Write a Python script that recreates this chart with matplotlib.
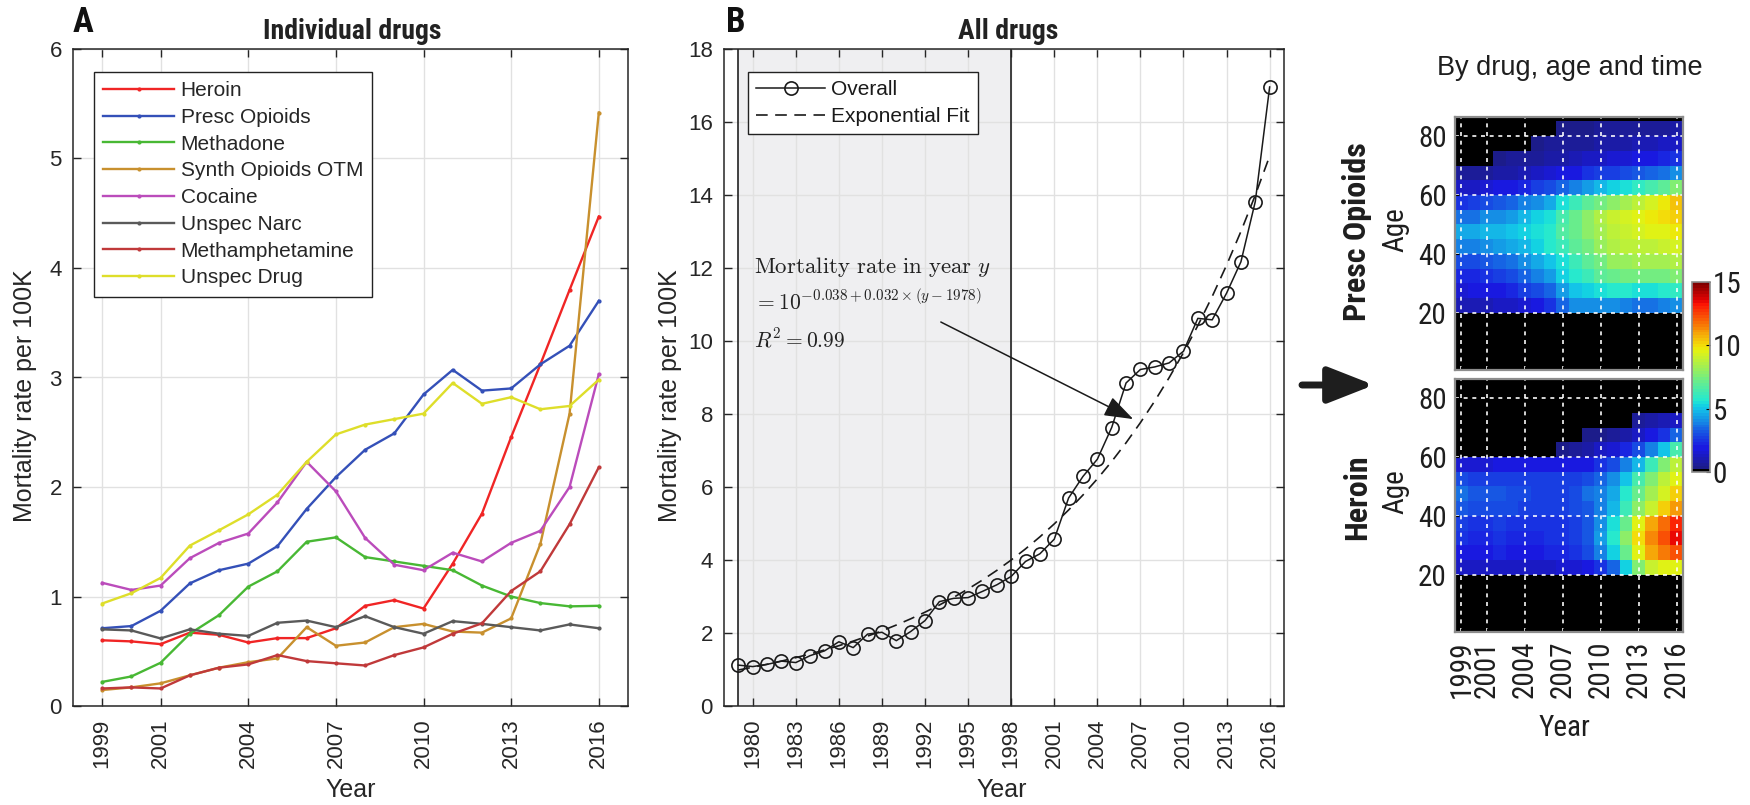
import numpy as np
import matplotlib
matplotlib.use('Agg')
import matplotlib.pyplot as plt
from matplotlib.colors import ListedColormap
from matplotlib import font_manager

_fonts = font_manager.fontManager.ttflist
_installed = {f.name for f in _fonts}


def _has_bold(name):
    return any(f.name == name and f.weight in (600, 700, 'bold', 'semibold')
               for f in _fonts)


# condensed face for titles and heat-map labels, plain sans as fallback
COND = 'Liberation Sans'
for cand in ['Roboto Condensed', 'IBM Plex Sans Condensed', 'Fira Sans Condensed',
             'PT Sans Narrow', 'Archivo Narrow', 'Liberation Sans Narrow']:
    if cand in _installed and _has_bold(cand):
        COND = cand
        break
HAS_NARROW = COND != 'Liberation Sans'

plt.rcParams['font.family'] = ['Liberation Sans', 'DejaVu Sans']
plt.rcParams['mathtext.fontset'] = 'cm'

TXT = '#262626'

# ---------------- data ----------------
years = list(range(1999, 2017))

drug_names = ['Heroin', 'Presc Opioids', 'Methadone', 'Synth Opioids OTM',
              'Cocaine', 'Unspec Narc', 'Methamphetamine', 'Unspec Drug']
heroin = [0.60, 0.59, 0.565, 0.67, 0.65, 0.58, 0.62, 0.62, 0.71, 0.915,
          0.967, 0.89, 1.30, 1.757, 2.456, 3.12, 3.80, 4.47]
presc_opioids = [0.71, 0.73, 0.87, 1.12, 1.24, 1.30, 1.46, 1.80, 2.09, 2.34,
                 2.49, 2.845, 3.07, 2.88, 2.90, 3.12, 3.29, 3.70]
methadone = [0.22, 0.27, 0.395, 0.66, 0.83, 1.09, 1.23, 1.50, 1.54, 1.36,
             1.32, 1.28, 1.24, 1.10, 1.00, 0.94, 0.91, 0.915]
synth_otm = [0.146, 0.17, 0.207, 0.28, 0.35, 0.40, 0.435, 0.72, 0.55, 0.58,
             0.72, 0.75, 0.68, 0.67, 0.80, 1.48, 2.67, 5.42]
cocaine = [1.125, 1.06, 1.10, 1.35, 1.49, 1.575, 1.86, 2.23, 1.96, 1.535,
           1.29, 1.24, 1.40, 1.32, 1.49, 1.60, 2.00, 3.03]
unspec_narc = [0.70, 0.69, 0.617, 0.70, 0.66, 0.64, 0.76, 0.78, 0.72, 0.82,
               0.72, 0.66, 0.775, 0.75, 0.72, 0.69, 0.745, 0.71]
methamphetamine = [0.16, 0.17, 0.16, 0.28, 0.35, 0.38, 0.465, 0.41, 0.39, 0.37,
                   0.465, 0.535, 0.66, 0.755, 1.05, 1.23, 1.66, 2.18]
unspec_drug = [0.936, 1.03, 1.17, 1.465, 1.605, 1.75, 1.93, 2.23, 2.48, 2.57,
               2.62, 2.67, 2.95, 2.76, 2.82, 2.71, 2.74, 2.98]
drug_series = [heroin, presc_opioids, methadone, synth_otm, cocaine,
               unspec_narc, methamphetamine, unspec_drug]
drug_colors = ['#f02525', '#3450b8', '#48b834', '#c8902e', '#bb4cbb',
               '#5a5a5a', '#c0393a', '#dede2a']

overall_years = list(range(1979, 2017))
overall = [1.12, 1.08, 1.14, 1.23, 1.19, 1.38, 1.51, 1.76, 1.60, 1.97,
           2.02, 1.79, 2.04, 2.34, 2.86, 2.95, 2.97, 3.14, 3.32, 3.55,
           3.96, 4.17, 4.57, 5.70, 6.29, 6.76, 7.63, 8.85, 9.22, 9.29,
           9.40, 9.72, 10.62, 10.58, 11.31, 12.17, 13.82, 16.96]
fit_a, fit_b, fit_y0 = -0.038, 0.032, 1978

# mortality per 100K by 5-year age group (rows: 0-4 ... 85-89), columns 1999..2016
presc_by_age = [
    [0] * 18,
    [0] * 18,
    [0] * 18,
    [0] * 18,
    [1.0, 1.0, 1.1, 1.2, 1.3, 1.5, 1.9, 2.5, 3.4, 4.0, 4.2, 4.2, 4.0, 3.8, 3.6, 3.6, 3.8, 4.2],
    [1.6, 1.7, 1.9, 2.1, 2.3, 2.6, 3.0, 3.5, 4.4, 5.0, 5.3, 5.5, 5.8, 5.8, 5.6, 5.6, 5.8, 6.0],
    [2.2, 2.3, 2.5, 2.8, 3.0, 3.3, 3.8, 4.4, 5.2, 5.8, 6.3, 6.8, 7.2, 7.4, 7.4, 7.3, 7.4, 7.5],
    [2.9, 3.0, 3.2, 3.4, 3.7, 4.0, 4.5, 5.0, 5.6, 6.2, 6.8, 7.4, 8.0, 8.2, 8.3, 8.3, 8.4, 8.6],
    [3.8, 3.9, 4.2, 4.4, 4.6, 4.9, 5.3, 5.7, 6.3, 6.8, 7.4, 8.0, 8.5, 8.7, 8.8, 8.8, 9.0, 9.2],
    [4.5, 4.6, 4.8, 4.9, 5.0, 5.2, 5.5, 5.8, 6.6, 7.2, 7.8, 8.4, 8.9, 9.1, 9.3, 9.4, 9.6, 9.8],
    [3.6, 3.7, 4.0, 4.2, 4.4, 4.8, 5.2, 5.6, 6.5, 7.2, 7.9, 8.5, 9.0, 9.3, 9.5, 9.7, 10.0, 10.3],
    [2.5, 2.6, 2.9, 3.1, 3.4, 3.8, 4.2, 4.6, 5.4, 6.1, 6.8, 7.4, 7.9, 8.4, 8.9, 9.3, 9.8, 10.4],
    [1.2, 1.3, 1.5, 1.8, 2.1, 2.3, 2.6, 2.9, 3.4, 3.9, 4.4, 4.8, 5.2, 5.6, 6.0, 6.4, 6.9, 7.5],
    [0.5, 0.6, 0.7, 0.8, 0.9, 1.1, 1.4, 1.6, 1.9, 2.1, 2.4, 2.6, 2.8, 3.0, 3.2, 3.4, 3.7, 4.0],
    [0.1, 0.2, 0.2, 0.3, 0.5, 0.6, 0.7, 0.8, 0.9, 1.0, 1.2, 1.3, 1.5, 1.6, 1.8, 2.0, 2.2, 2.5],
    [0, 0, 0, 0, 0, 0.1, 0.4, 0.5, 0.5, 0.6, 0.7, 0.8, 0.9, 0.9, 1.0, 1.1, 1.2, 1.3],
    [0, 0, 0, 0, 0, 0, 0, 0, 0.3, 0.4, 0.4, 0.5, 0.5, 0.6, 0.6, 0.7, 0.7, 0.8],
    [0] * 18,
]
heroin_by_age = [
    [0] * 18,
    [0] * 18,
    [0] * 18,
    [0] * 18,
    [1.2, 1.2, 1.2, 1.3, 1.3, 1.3, 1.3, 1.4, 1.5, 1.6, 1.9, 2.4, 3.5, 5.3, 7.6, 9.0, 9.4, 9.6],
    [2.1, 2.1, 2.1, 2.2, 2.1, 2.1, 2.1, 2.2, 2.3, 2.5, 3.0, 3.9, 5.2, 7.2, 9.4, 10.8, 11.6, 12.4],
    [2.4, 2.3, 2.3, 2.4, 2.3, 2.3, 2.3, 2.4, 2.5, 2.7, 3.2, 4.3, 5.8, 7.8, 9.9, 11.3, 12.4, 13.4],
    [2.6, 2.5, 2.5, 2.6, 2.5, 2.4, 2.4, 2.5, 2.5, 2.7, 3.1, 4.0, 5.4, 7.2, 9.4, 10.8, 11.8, 13.0],
    [3.1, 3.0, 2.9, 3.0, 2.9, 2.8, 2.7, 2.7, 2.7, 2.9, 3.2, 3.8, 4.8, 6.2, 7.9, 9.1, 10.1, 11.2],
    [3.7, 3.2, 3.1, 3.2, 3.0, 2.9, 2.8, 2.8, 2.8, 3.0, 3.6, 3.9, 4.6, 5.8, 7.2, 8.4, 9.3, 10.2],
    [2.9, 2.8, 2.7, 2.8, 2.7, 2.6, 2.6, 2.6, 2.6, 2.7, 2.9, 3.3, 4.1, 5.1, 6.5, 7.7, 8.7, 9.6],
    [1.6, 1.6, 1.6, 1.7, 1.7, 1.7, 1.7, 1.8, 1.9, 2.0, 2.1, 2.4, 3.0, 3.8, 4.9, 6.2, 7.5, 8.8],
    [0, 0, 0, 0.2, 0.2, 0.2, 0.2, 0.2, 0.3, 0.6, 0.9, 1.2, 1.6, 2.2, 3.0, 3.9, 5.0, 6.4],
    [0, 0, 0, 0, 0, 0, 0, 0, 0, 0.2, 0.3, 0.4, 0.6, 0.9, 1.3, 1.9, 2.5, 3.4],
    [0, 0, 0, 0, 0, 0, 0, 0, 0, 0, 0, 0, 0, 0.2, 0.5, 0.8, 1.0, 1.4],
    [0] * 18,
    [0] * 18,
    [0] * 18,
]
age_group_starts = list(range(0, 95, 5))

# ---------------- figure ----------------
W, H = 1750, 805
fig = plt.figure(figsize=(W / 100, H / 100), dpi=100)


def px_axes(x0, y0, x1, y1):
    return fig.add_axes([x0 / W, 1 - y1 / H, (x1 - x0) / W, (y1 - y0) / H])


def style_line_axes(ax):
    ax.grid(True, color='#e1e1e1', lw=1.0)
    ax.set_axisbelow(True)
    for s in ax.spines.values():
        s.set_color(TXT)
        s.set_linewidth(1.1)
    ax.tick_params(direction='in', length=6, width=1.0, colors=TXT,
                   top=True, right=True, labelsize=16)
    ax.tick_params(axis='y', pad=8)
    ax.tick_params(axis='x', pad=9)
    for lab in ax.get_xticklabels():
        lab.set_rotation(90)


title_fs = 20 if HAS_NARROW else 16.5

# Panel A: individual drugs
axA = px_axes(73, 49, 628, 706)
for name, vals, col in zip(drug_names, drug_series, drug_colors):
    axA.plot(years, vals, color=col, lw=1.7, marker='.', ms=4, label=name)
axA.set_xlim(1998, 2017)
axA.set_ylim(0, 6)
axA.set_xticks([1999, 2001, 2004, 2007, 2010, 2013, 2016])
axA.set_yticks(range(0, 7))
style_line_axes(axA)
axA.set_xlabel('Year', fontsize=18, color=TXT, va='center')
axA.xaxis.set_label_coords(0.5, -0.128)
axA.set_ylabel('Mortality rate per 100K', fontsize=18, color=TXT, va='center')
axA.yaxis.set_label_coords(-0.087, 0.472)
legA = axA.legend(loc='upper left', bbox_to_anchor=(0.038, 0.965),
                  borderaxespad=0, fontsize=15, handlelength=3.4,
                  labelspacing=0.37, handletextpad=0.3, borderpad=0.45,
                  fancybox=False, framealpha=1, edgecolor='#222222')
legA.get_frame().set_linewidth(1.0)
for t in legA.get_texts():
    t.set_color(TXT)
axA.text(0.503, 1.026, 'Individual drugs', transform=axA.transAxes,
         ha='center', va='center', fontsize=title_fs,
         fontweight='bold', family=[COND], color='#222222')

# Panel B: all drugs
axB = px_axes(724, 49, 1284, 706)
axB.axvspan(1979, 1998, color='#efeff1', zorder=0, lw=0)
axB.axvline(1979, color='#222222', lw=1.2, zorder=1)
axB.axvline(1998, color='#222222', lw=1.2, zorder=1)
axB.plot(overall_years, overall, color='#1a1a1a', lw=1.1, marker='o',
         ms=9.5, mfc='none', mew=1.2, label='Overall', zorder=3)
fit_years = np.array(overall_years)
fit_vals = 10 ** (fit_a + fit_b * (fit_years - fit_y0))
axB.plot(fit_years, fit_vals, color='#1a1a1a', lw=1.2, ls=(0, (7, 4.5)),
         label='Exponential Fit', zorder=2)
axB.set_xlim(1978, 2017)
axB.set_ylim(0, 18)
axB.set_xticks(range(1980, 2017, 3))
axB.set_yticks(range(0, 19, 2))
style_line_axes(axB)
axB.set_xlabel('Year', fontsize=18, color=TXT, va='center')
axB.xaxis.set_label_coords(0.496, -0.128)
axB.set_ylabel('Mortality rate per 100K', fontsize=18, color=TXT, va='center')
axB.yaxis.set_label_coords(-0.096, 0.472)
legB = axB.legend(loc='upper left', bbox_to_anchor=(0.043, 0.965),
                  borderaxespad=0, fontsize=15, handlelength=3.3,
                  labelspacing=0.37, handletextpad=0.3, borderpad=0.4,
                  fancybox=False, framealpha=1, edgecolor='#222222')
legB.get_frame().set_linewidth(1.0)
for t in legB.get_texts():
    t.set_color('#1a1a1a')
axB.text(0.507, 1.026, 'All drugs', transform=axB.transAxes,
         ha='center', va='center', fontsize=title_fs,
         fontweight='bold', family=[COND], color='#222222')
axB.text(1980.1, 12.02, r'$\mathrm{Mortality\ rate\ in\ year}\ y$',
         fontsize=16.5, va='center', color='#222222')
axB.text(1980.1, 11.05,
         r'$= 10^{%.3f+%.3f\times(y-%d)}$' % (fit_a, fit_b, fit_y0),
         fontsize=15.5, va='center', color='#222222')
axB.text(1980.1, 10.03, r'$R^2 = 0.99$', fontsize=15.5, va='center',
         color='#222222')
axB.annotate('', xy=(2006.5, 7.86), xytext=(1993.1, 10.52),
             arrowprops=dict(arrowstyle='-|>,head_length=1.0,head_width=0.35',
                             color='#1a1a1a', lw=1.1, mutation_scale=18,
                             shrinkA=0, shrinkB=0))

# Panel C: heat maps by age and year (jet with black floor, low end slightly muted)
cols = plt.get_cmap('jet')(np.linspace(0, 1, 64))
mute = 0.25 * (1 - np.linspace(0, 1, 64))[:, None]
cols[:, :3] = cols[:, :3] * (1 - mute) + 0.45 * mute
cols[0] = [0, 0, 0, 1]
cmap = ListedColormap(cols)
year_edges = np.arange(years[0] - 0.5, years[-1] + 1.0, 1.0)
age_edges = np.array(age_group_starts, dtype=float)

tick_fs = 21 if HAS_NARROW else 17.5
heat_axes = []
for (y0, y1), grid, drug, name_dy in [((117, 370), presc_by_age, 'Presc Opioids', 12),
                                      ((379, 632), heroin_by_age, 'Heroin', 8)]:
    ax = px_axes(1455, y0, 1683, y1)
    mesh = ax.pcolormesh(year_edges, age_edges, np.array(grid), cmap=cmap,
                         vmin=0, vmax=15, shading='flat')
    ax.set_xlim(1998.5, 2016.5)
    ax.set_ylim(0.5, 86.5)
    ax.set_xticks([1999, 2001, 2004, 2007, 2010, 2013, 2016])
    ax.set_yticks([20, 40, 60, 80])
    ax.grid(True, color='white', lw=1.3, ls=(0, (2.2, 2.6)), alpha=0.9)
    for s in ax.spines.values():
        s.set_color('#8c8c8c')
        s.set_linewidth(1.6)
    ax.tick_params(direction='in', length=3, colors='k', labelcolor='#1e1e1e',
                   labelsize=tick_fs, pad=6)
    for lab in ax.get_yticklabels() + ax.get_xticklabels():
        lab.set_family(COND)
    ymid = (y0 + y1) / 2
    fig.text(1357 / W, 1 - (ymid - name_dy) / H, drug, rotation=90, ha='center',
             va='center', fontsize=23 if HAS_NARROW else 19,
             fontweight='bold', family=[COND], color='#1e1e1e')
    fig.text(1395 / W, 1 - (ymid - 14) / H, 'Age', rotation=90, ha='center',
             va='center', fontsize=tick_fs, family=[COND], color='#1e1e1e')
    heat_axes.append(ax)

heat_axes[0].tick_params(labelbottom=False)
for lab in heat_axes[1].get_xticklabels():
    lab.set_rotation(90)
heat_axes[1].set_xlabel('Year', fontsize=tick_fs, family=[COND],
                        color='#1e1e1e', va='center')
heat_axes[1].xaxis.set_label_coords(0.482, -0.38)

cax = px_axes(1692, 282, 1710, 472)
cb = fig.colorbar(mesh, cax=cax, ticks=[0, 5, 10, 15])
cb.outline.set_edgecolor('#8c8c8c')
cb.outline.set_linewidth(1.2)
cax.tick_params(direction='in', length=3, labelsize=tick_fs, pad=2,
                labelcolor='#1e1e1e')
for lab in cax.get_yticklabels():
    lab.set_family(COND)

fig.text(1570 / W, 1 - 68 / H, 'By drug, age and time', ha='center',
         va='center', fontsize=19.5, color='#1e1e1e')

# panel letters
fig.text(73 / W, 1 - 22 / H, 'A', ha='left', va='center', fontsize=25,
         fontweight='bold', family=[COND], color='#111111')
fig.text(726 / W, 1 - 22 / H, 'B', ha='left', va='center', fontsize=25,
         fontweight='bold', family=[COND], color='#111111')

# arrow pointing to the heat maps
fig.add_artist(matplotlib.patches.FancyArrowPatch(
    (1302, H - 385), (1374, H - 385), transform=None,
    arrowstyle='-|>,head_length=1.4,head_width=0.55', mutation_scale=20,
    lw=5, color='#1e1e1e', shrinkA=0, shrinkB=0))

fig.savefig('out.png', dpi=100)
